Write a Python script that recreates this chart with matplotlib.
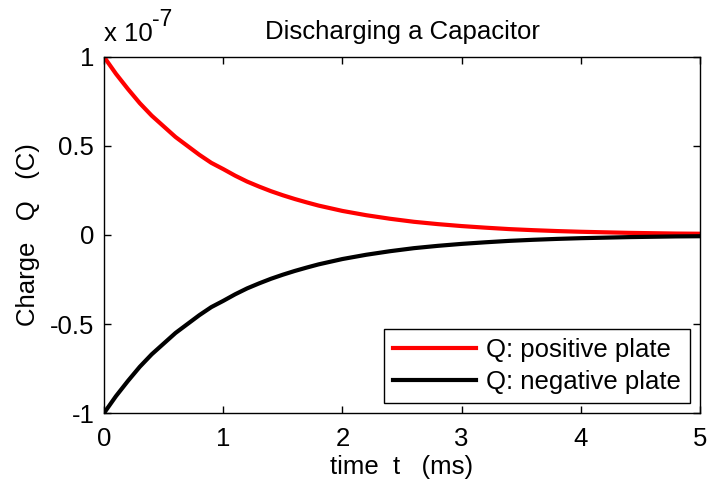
"""Discharging a capacitor: charge on each plate vs time."""

import matplotlib.pyplot as plt

plt.rcParams["font.family"] = ["Liberation Sans", "DejaVu Sans"]

# time in ms, charge in units of 1e-7 C
time_ms = [0, 0.1, 0.2, 0.3, 0.4, 0.5, 0.6, 0.7, 0.8, 0.9,
           1.0, 1.1, 1.2, 1.3, 1.4, 1.5, 1.6, 1.7, 1.8, 1.9,
           2.0, 2.2, 2.4, 2.6, 2.8, 3.0, 3.2, 3.4, 3.6, 3.8,
           4.0, 4.2, 4.4, 4.6, 4.8, 5.0]
q_pos = [1.0, 0.905, 0.82, 0.74, 0.67, 0.61, 0.55, 0.5, 0.45, 0.405,
         0.37, 0.333, 0.3, 0.272, 0.246, 0.223, 0.202, 0.183, 0.165, 0.15,
         0.135, 0.111, 0.091, 0.074, 0.061, 0.05, 0.041, 0.033, 0.027, 0.022,
         0.018, 0.015, 0.012, 0.01, 0.008, 0.007]
q_neg = [-1.0, -0.905, -0.82, -0.74, -0.67, -0.61, -0.55, -0.5, -0.45, -0.405,
         -0.37, -0.333, -0.3, -0.272, -0.246, -0.223, -0.202, -0.183, -0.165, -0.15,
         -0.135, -0.111, -0.091, -0.074, -0.061, -0.05, -0.041, -0.033, -0.027, -0.022,
         -0.018, -0.015, -0.012, -0.01, -0.008, -0.007]

x_ticks = [0, 1, 2, 3, 4, 5]
y_ticks = [-1, -0.5, 0, 0.5, 1]
y_tick_labels = ["-1", "-0.5", "0", "0.5", "1"]

FS = 18.5

fig = plt.figure(figsize=(7.1, 4.86), dpi=100)
ax = fig.add_axes([0.1465, 0.150, 0.8395, 0.733])

ax.plot(time_ms, q_pos, color="#ff0000", lw=3, label="Q: positive plate",
        solid_joinstyle="round")
ax.plot(time_ms, q_neg, color="#000000", lw=3, label="Q: negative plate",
        solid_joinstyle="round")

ax.set_xlim(0, 5)
ax.set_ylim(-1, 1)
ax.set_xticks(x_ticks)
ax.set_yticks(y_ticks)
ax.set_yticklabels(y_tick_labels)
ax.tick_params(direction="in", length=5, width=1, labelsize=FS,
               top=True, right=True)
ax.tick_params(axis="y", pad=7)
ax.tick_params(axis="x", pad=10)
for s in ax.spines.values():
    s.set_linewidth(1)

ax.text(0.0, 1.03, "x 10", transform=ax.transAxes, fontsize=FS, va="bottom", ha="left")
ax.text(0.081, 1.072, "-7", transform=ax.transAxes, fontsize=FS - 2, va="bottom", ha="left")

ax.set_title("Discharging a Capacitor", fontsize=FS, pad=13)
ax.set_xlabel("time  t   (ms)", fontsize=FS, labelpad=3)
ax.set_ylabel("Charge   Q   (C)", fontsize=FS, labelpad=7)

leg = ax.legend(loc="lower right", fontsize=FS, frameon=True, fancybox=False,
                edgecolor="black", framealpha=1, handlelength=3.2,
                borderaxespad=0.4, handletextpad=0.4, labelspacing=0.3,
                borderpad=0.35)
leg.get_frame().set_linewidth(1)

fig.savefig("out.png", dpi=100)
